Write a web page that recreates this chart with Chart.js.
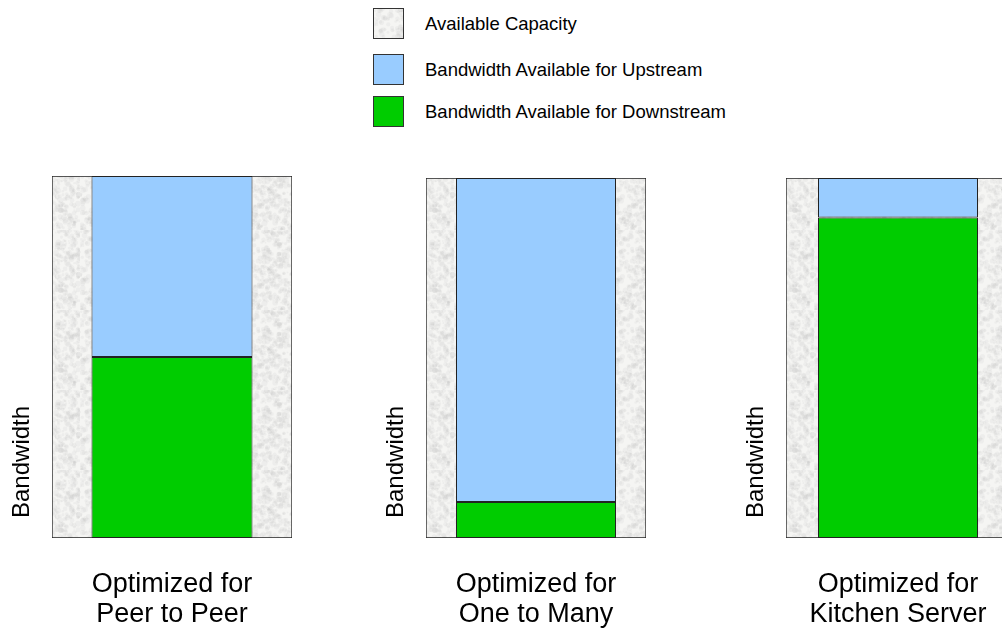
<!DOCTYPE html>
<html>
<head>
<meta charset="utf-8">
<script src="https://cdn.jsdelivr.net/npm/chart.js@4.4.1/dist/chart.umd.min.js"></script>
<style>
  body { margin: 0; width: 1002px; height: 628px; overflow: hidden; background: #fff;
         font-family: "Liberation Sans", Arial, sans-serif; position: relative; }
  .panel { position: absolute; top: 150px; height: 478px; }
  .item { position: absolute; left: 373px; height: 31px; display: flex; align-items: center;
          font-size: 18.5px; color: #000; white-space: nowrap; }
  .sw { width: 31px; height: 31px; border: 1px solid #333; box-sizing: border-box; margin-right: 21px; }
</style>
</head>
<body>
<div class="item" style="top:8px"><span class="sw" id="swCap"></span>Available Capacity</div>
<div class="item" style="top:54px"><span class="sw" style="background:#99ccff"></span>Bandwidth Available for Upstream</div>
<div class="item" style="top:96px"><span class="sw" style="background:#00cc00"></span>Bandwidth Available for Downstream</div>

<div class="panel" style="left:0;width:320px"><canvas id="c0"></canvas></div>
<div class="panel" style="left:374px;width:300px"><canvas id="c1"></canvas></div>
<div class="panel" style="left:734px;width:304px"><canvas id="c2"></canvas></div>

<script>
// values (percent of available capacity)
var categories = [["Optimized for", "Peer to Peer"], ["Optimized for", "One to Many"], ["Optimized for", "Kitchen Server"]];
var capacity = [100, 100, 100];
var upstream = [50, 90, 11];
var downstream = [50, 10, 89];
var seriesNames = ["Available Capacity", "Bandwidth Available for Upstream", "Bandwidth Available for Downstream"];

// grey speckled texture for the capacity box
function hash(n) {
  var s = Math.sin(n * 12.9898) * 43758.5453;
  return s - Math.floor(s);
}
var tex = document.createElement("canvas");
tex.width = 80; tex.height = 80;
var tc = tex.getContext("2d");
tc.fillStyle = "#f5f5f3";
tc.fillRect(0, 0, 80, 80);
for (var i = 0; i < 600; i++) {
  tc.fillStyle = "rgba(170,170,165,0.09)";
  tc.beginPath();
  tc.arc(hash(i + 1) * 80, hash(i + 1001) * 80, 0.8 + hash(i + 2001) * 2.2, 0, Math.PI * 2);
  tc.fill();
}
document.getElementById("swCap").style.background = "url(" + tex.toDataURL() + ")";

var panels = [
  { top: 26, right: 28, bar: 161 / 240 },
  { top: 28, right: 28, bar: 160 / 220 },
  { top: 28, right: 28, bar: 160 / 224 }
];

panels.forEach(function(p, k) {
  var ctx = document.getElementById("c" + k).getContext("2d");
  var pattern = ctx.createPattern(tex, "repeat");
  var common = { borderColor: "#222", borderWidth: 1, borderSkipped: false, grouped: false, categoryPercentage: 1 };
  new Chart(ctx, {
    type: "bar",
    data: {
      labels: [categories[k]],
      datasets: [
        Object.assign({ label: seriesNames[0], data: [capacity[k]], xAxisID: "xCap",
          backgroundColor: pattern, barPercentage: 1, order: 3 }, common),
        Object.assign({ label: seriesNames[2], data: [downstream[k]],
          backgroundColor: "#00cc00", barPercentage: p.bar, order: 1 }, common),
        Object.assign({ label: seriesNames[1], data: [upstream[k]],
          backgroundColor: "#99ccff", barPercentage: p.bar, order: 2 }, common)
      ]
    },
    options: {
      responsive: true,
      maintainAspectRatio: false,
      animation: false,
      layout: { padding: { top: p.top, right: p.right, left: 0, bottom: 0 } },
      plugins: { legend: { display: false }, tooltip: { enabled: false } },
      scales: {
        x: {
          stacked: true,
          offset: true,
          grid: { display: false, drawTicks: false },
          border: { display: false },
          ticks: {
            color: "#000",
            padding: 31,
            maxRotation: 0,
            autoSkip: false,
            font: { family: "Liberation Sans", size: 27, lineHeight: 1.13 }
          },
          afterFit: function(s) { s.height = 90; }
        },
        xCap: {
          type: "category",
          labels: [categories[k]],
          offset: true,
          display: false
        },
        y: {
          stacked: true,
          min: 0,
          max: 100,
          grid: { display: false },
          border: { display: false },
          ticks: { display: false },
          title: {
            display: true,
            text: "   Bandwidth",
            align: "start",
            color: "#000",
            padding: { top: 8, bottom: 0 },
            font: { family: "Liberation Sans", size: 24 }
          },
          afterFit: function(s) { s.width = 52; }
        }
      }
    }
  });
});
</script>
</body>
</html>
